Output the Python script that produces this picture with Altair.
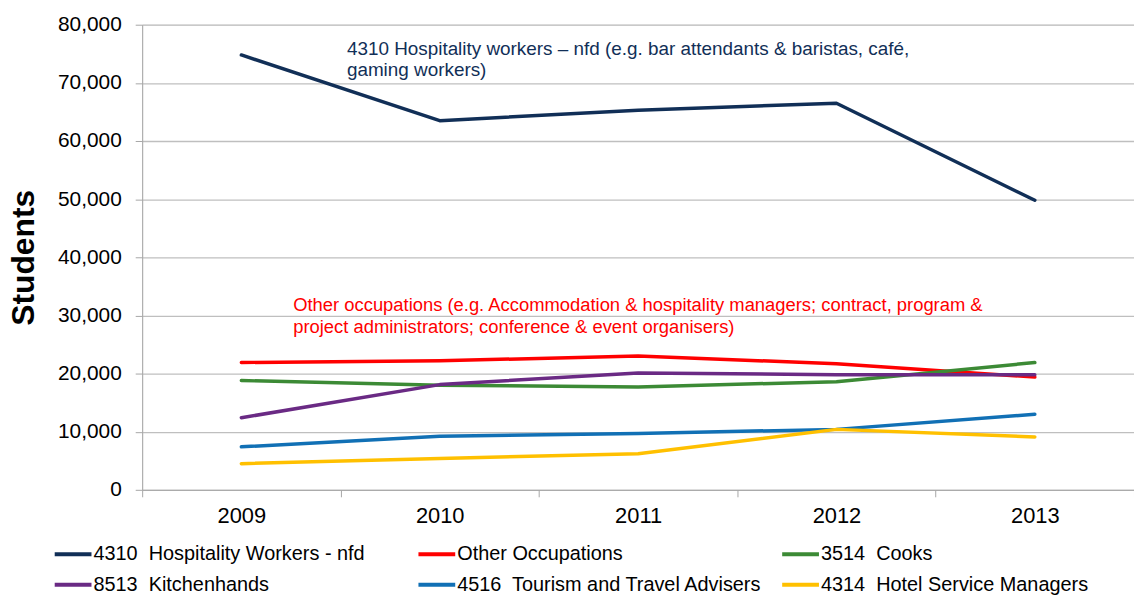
import altair as alt
import pandas as pd

years = ["2009", "2010", "2011", "2012", "2013"]
series_names = [
    "4310\u00a0 Hospitality Workers - nfd",
    "Other Occupations",
    "3514\u00a0 Cooks",
    "8513\u00a0 Kitchenhands",
    "4516\u00a0 Tourism and Travel Advisers",
    "4314\u00a0 Hotel Service Managers",
]
hospitality = [74800, 63500, 65300, 66500, 49800]
other = [21900, 22200, 23000, 21700, 19400]
cooks = [18800, 18000, 17700, 18600, 21900]
kitchenhands = [12400, 18100, 20100, 19800, 19800]
tourism = [7400, 9200, 9700, 10400, 13000]
hotel = [4500, 5400, 6200, 10400, 9100]
colors = ["#112F57", "#FF0000", "#3C8A35", "#6A2A84", "#1170B5", "#FFC000"]

all_values = [hospitality, other, cooks, kitchenhands, tourism, hotel]
rows = []
for name, vals in zip(series_names, all_values):
    for yr, v in zip(years, vals):
        rows.append({"Year": yr, "Students": v, "Series": name})
df = pd.DataFrame(rows)

# legend grid fills column by column: reorder so rows read like the reference
legend_order = [0, 3, 1, 4, 2, 5]
dom = [series_names[i] for i in legend_order]
rng = [colors[i] for i in legend_order]

lines = alt.Chart(df).mark_line(strokeWidth=3.5, strokeCap="round", strokeJoin="round").encode(
    x=alt.X("Year:O", bandPosition=0.5,
            scale=alt.Scale(type="band", domain=years, paddingInner=0, paddingOuter=0),
            axis=alt.Axis(title=None, labelAngle=0, labelFontSize=22, labelColor="#000000",
                          labelFont="Liberation Sans", tickBand="extent", tickSize=7,
                          tickColor="#A6A6A6", domainColor="#A6A6A6", labelPadding=9,
                          grid=False)),
    y=alt.Y("Students:Q", scale=alt.Scale(domain=[0, 80000], nice=False),
            axis=alt.Axis(title="Students", format=",d", values=list(range(0, 80001, 10000)),
                          labelFontSize=21, labelColor="#000000", labelFont="Liberation Sans",
                          labelOverlap=False,
                          titleFontSize=32, titleFont="Liberation Sans", titleFontWeight="bold",
                          titleColor="#000000", titleX=-102, titleY=234, titleAngle=-90,
                          titleAlign="center", titleBaseline="bottom",
                          tickSize=7, tickColor="#A6A6A6", domainColor="#A6A6A6",
                          labelPadding=14, gridColor="#BFBFBF", gridWidth=1.3)),
    color=alt.Color("Series:N", scale=alt.Scale(domain=dom, range=rng),
                    legend=alt.Legend(title=None, orient="none", legendX=-90, legendY=512,
                                      columns=3, gridAlign="all", columnPadding=11, rowPadding=0,
                                      padding=0,
                                      symbolType="stroke", symbolStrokeWidth=4, symbolSize=1369,
                                      labelFontSize=20, labelFont="Liberation Sans",
                                      labelColor="#000000", labelOffset=0, labelLimit=400)),
    order=alt.value(0),
)

note_top = alt.Chart(pd.DataFrame({"t": [0]})).mark_text(
    align="left", baseline="alphabetic", fontSize=19, font="Liberation Sans", color="#112F57",
    lineHeight=22,
    text=["4310 Hospitality workers \u2013 nfd (e.g. bar attendants & baristas, caf\u00e9,",
          "gaming workers)"],
).encode(x=alt.value(206), y=alt.value(30))

note_red = alt.Chart(pd.DataFrame({"t": [0]})).mark_text(
    align="left", baseline="alphabetic", fontSize=18.5, font="Liberation Sans", color="#FF0000",
    lineHeight=22,
    text=["Other occupations (e.g. Accommodation & hospitality managers; contract, program &",
          "project administrators; conference & event organisers)"],
).encode(x=alt.value(152), y=alt.value(288))

chart = alt.layer(lines, note_top, note_red).properties(
    width=998, height=468,
    autosize=alt.AutoSizeParams(type="none"),
    padding={"left": 135, "top": 15, "right": 0, "bottom": 104},
).configure_view(stroke=None).configure(background="white")

chart.save("out.html", embed_options={"renderer": "svg", "actions": False})
